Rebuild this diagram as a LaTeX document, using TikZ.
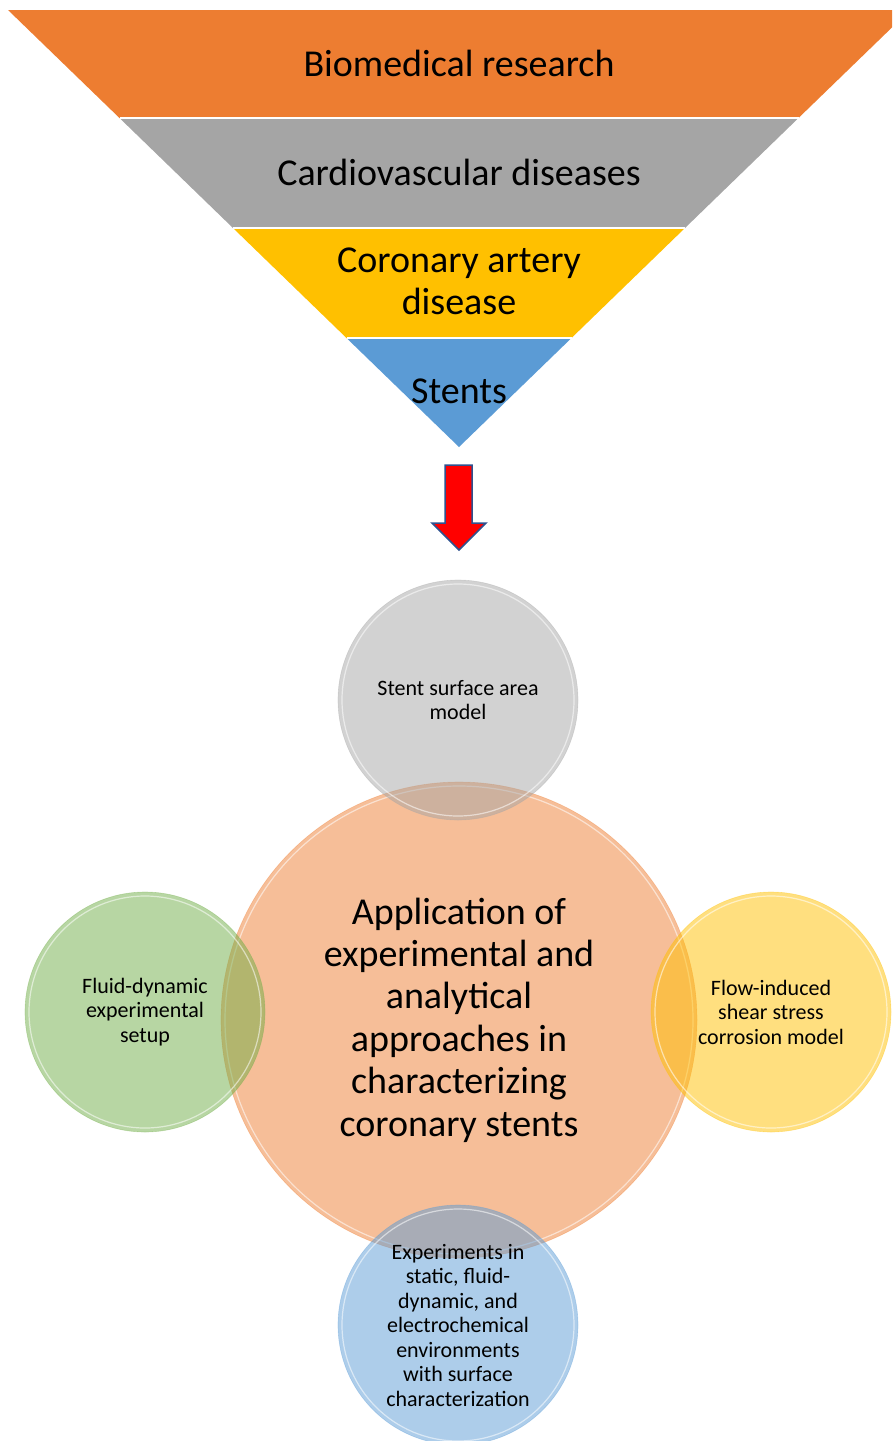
\documentclass[tikz,border=0pt]{standalone}
\usepackage{fontspec}
\setmainfont{Carlito}
\definecolor{cOrange}{HTML}{ED7D31}
\definecolor{cGray}{HTML}{A5A5A5}
\definecolor{cGold}{HTML}{FFC000}
\definecolor{cBlue}{HTML}{5B9BD5}
\definecolor{cGreen}{HTML}{70AD47}
\definecolor{cEdge}{HTML}{2F528F}
\begin{document}
\begin{tikzpicture}[x=1pt,y=-1pt,
  bandtext/.style={inner sep=0pt, align=center, text=black, font=\fontsize{38}{42}\selectfont},
  bub/.style={circle, minimum size=240pt, inner sep=0pt, align=center,
    fill=#1, fill opacity=0.5, draw=#1, draw opacity=0.35, line width=0.6pt,
    text opacity=1, text=black, font=\fontsize{22}{24.5}\selectfont},
  bigbub/.style={bub=#1, minimum size=476pt, font=\fontsize{38}{42.4}\selectfont},
  rim/.style={draw=white, line width=1.2pt, draw opacity=0.55},
  sep/.style={draw=white, line width=2pt}]
\useasboundingbox (0,0) rectangle (892,1441);
\begin{scope}
\clip (0,0) rectangle (892,1441);
% funnel bands
\fill[cOrange] (8,10) -- (910,10) -- (798.5,118) -- (119.5,118) -- cycle;
\fill[cGray] (119.5,118) -- (798.5,118) -- (685,228) -- (233,228) -- cycle;
\fill[cGold] (233,228) -- (685,228) -- (571.5,338) -- (346.5,338) -- cycle;
\fill[cBlue] (346.5,338) -- (571.5,338) -- (459,447) -- cycle;
\draw[sep] (119.5,118) -- (798.5,118);
\draw[sep] (233,228) -- (685,228);
\draw[sep] (346.5,338) -- (571.5,338);
\end{scope}
\node[bandtext] (t1) at (459,63) {Biomedical research};
\node[bandtext] (t2) at (459,172) {Cardiovascular diseases};
\node[bandtext] (t3) at (459,281) {Coronary artery\\disease};
\node[bandtext] (t4) at (459,391) {Stents};
% arrow
\fill[red, draw=cEdge, line width=1.5pt, line join=miter]
  (445,465) -- (472,465) -- (472,523) -- (486,523) -- (459,550) -- (432,523) -- (445,523) -- cycle;
% circles
\node[bigbub=cOrange] (center) at (459,1020) {Application of\\experimental and\\analytical\\approaches in\\characterizing\\coronary stents};
\draw[rim] (center.center) circle (234);
\node[bub=cGray] (top) at (458,700) {Stent surface area\\model};
\draw[rim] (top.center) circle (116);
\node[bub=cGreen] (left) at (145,1012) {Fluid-dynamic\\experimental\\setup};
\draw[rim] (left.center) circle (116);
\node[bub=cGold] (right) at (771,1012) {Flow-induced\\shear stress\\corrosion model};
\draw[rim] (right.center) circle (116);
\node[bub=cBlue] (bottom) at (458,1325) {Experiments in\\static, fluid-\\dynamic, and\\electrochemical\\environments\\with surface\\characterization};
\draw[rim] (bottom.center) circle (116);
\end{tikzpicture}
\end{document}
